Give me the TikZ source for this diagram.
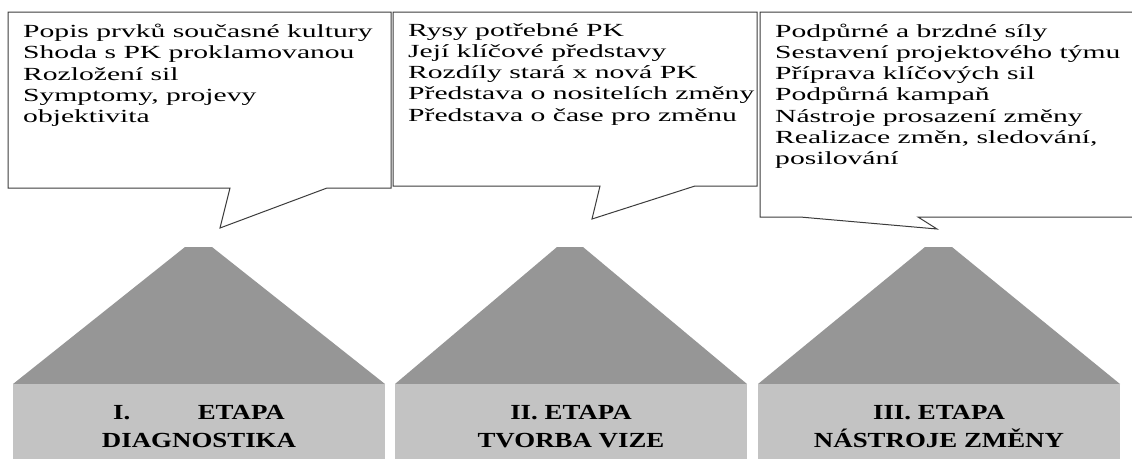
\documentclass[tikz,border=0pt]{standalone}
\usepackage{fontspec}
\usepackage{graphicx}
\setmainfont{Liberation Serif}
\definecolor{roofgray}{HTML}{969696}
\definecolor{bodygray}{HTML}{C3C3C3}
\definecolor{linegray}{HTML}{3C3C3C}
\newcommand{\wideleft}[1]{\scalebox{1.6}[1]{\begin{tabular}[t]{@{}l@{}}#1\end{tabular}}}
\newcommand{\widecenter}[1]{\scalebox{1.25}[1]{\begin{tabular}[t]{@{}c@{}}#1\end{tabular}}}
\begin{document}
\begin{tikzpicture}[x=1pt,y=-1pt,
  callout/.style={draw=linegray, line width=1pt, fill=white, line join=miter},
  bodytext/.style={anchor=base west, inner sep=0pt,
    font=\fontsize{18.5}{21.3}\selectfont},
  roofshape/.style={fill=roofgray, draw=none},
  housebody/.style={fill=bodygray, draw=none, inner sep=0pt, minimum height=75pt},
  stagelabel/.style={inner sep=0pt, anchor=base,
    font=\bfseries\fontsize{21.5}{28}\selectfont}]
\useasboundingbox (0,0) rectangle (1132,459);
\begin{scope}
\clip (0,0) rectangle (1132,459);
% callout 1
\coordinate (c1a) at (8,12);
\coordinate (c1b) at (391,12);
\coordinate (c1c) at (391,188);
\coordinate (c1t1) at (327,188);
\coordinate (c1tip) at (220,228);
\coordinate (c1t2) at (230,188);
\coordinate (c1d) at (8,188);
\draw[callout] (c1a) -- (c1b) -- (c1c) -- (c1t1) -- (c1tip) -- (c1t2) -- (c1d) -- cycle;
% callout 2
\coordinate (c2a) at (393,12);
\coordinate (c2b) at (757,12);
\coordinate (c2c) at (757,186);
\coordinate (c2t1) at (695,186);
\coordinate (c2tip) at (592,219);
\coordinate (c2t2) at (600,186);
\coordinate (c2d) at (393,186);
\draw[callout] (c2a) -- (c2b) -- (c2c) -- (c2t1) -- (c2tip) -- (c2t2) -- (c2d) -- cycle;
% callout 3
\coordinate (c3a) at (760,12);
\coordinate (c3b) at (1145,12);
\coordinate (c3c) at (1145,217);
\coordinate (c3t1) at (918,217);
\coordinate (c3tip) at (937,229);
\coordinate (c3t2) at (800,217);
\coordinate (c3d) at (760,217);
\draw[callout] (c3a) -- (c3b) -- (c3c) -- (c3t1) -- (c3tip) -- (c3t2) -- (c3d) -- cycle;
\end{scope}
\node[bodytext] (t1) at (23,37.5) {\wideleft{Popis prvků současné kultury\\Shoda s PK proklamovanou\\Rozložení sil\\Symptomy, projevy\\objektivita}};
\node[bodytext] (t2) at (408,36) {\wideleft{Rysy potřebné PK\\Její klíčové představy\\Rozdíly stará x nová PK\\Představa o nositelích změny\\Představa o čase pro změnu}};
\node[bodytext] (t3) at (775,37) {\wideleft{Podpůrné a brzdné síly\\Sestavení projektového týmu\\Příprava klíčových sil\\Podpůrná kampaň\\Nástroje prosazení změny\\Realizace změn, sledování,\\posilování}};
% houses
\fill[roofshape] (13,384) -- (185,247) -- (212,247) -- (385,384) -- cycle;
\node[housebody, minimum width=372pt] (h1) at (199,421.5) {};
\fill[roofshape] (395,384) -- (557,247) -- (583,247) -- (747,384) -- cycle;
\node[housebody, minimum width=352pt] (h2) at (571,421.5) {};
\fill[roofshape] (758,384) -- (925,247) -- (952,247) -- (1120,384) -- cycle;
\node[housebody, minimum width=362pt] (h3) at (939,421.5) {};
\node[stagelabel] (l1) at (199,419) {\widecenter{I.\hspace{54pt}ETAPA\\DIAGNOSTIKA}};
\node[stagelabel] (l2) at (571,419) {\widecenter{II. ETAPA\\TVORBA VIZE}};
\node[stagelabel] (l3) at (939,419) {\widecenter{III. ETAPA\\NÁSTROJE ZMĚNY}};
\end{tikzpicture}
\end{document}
